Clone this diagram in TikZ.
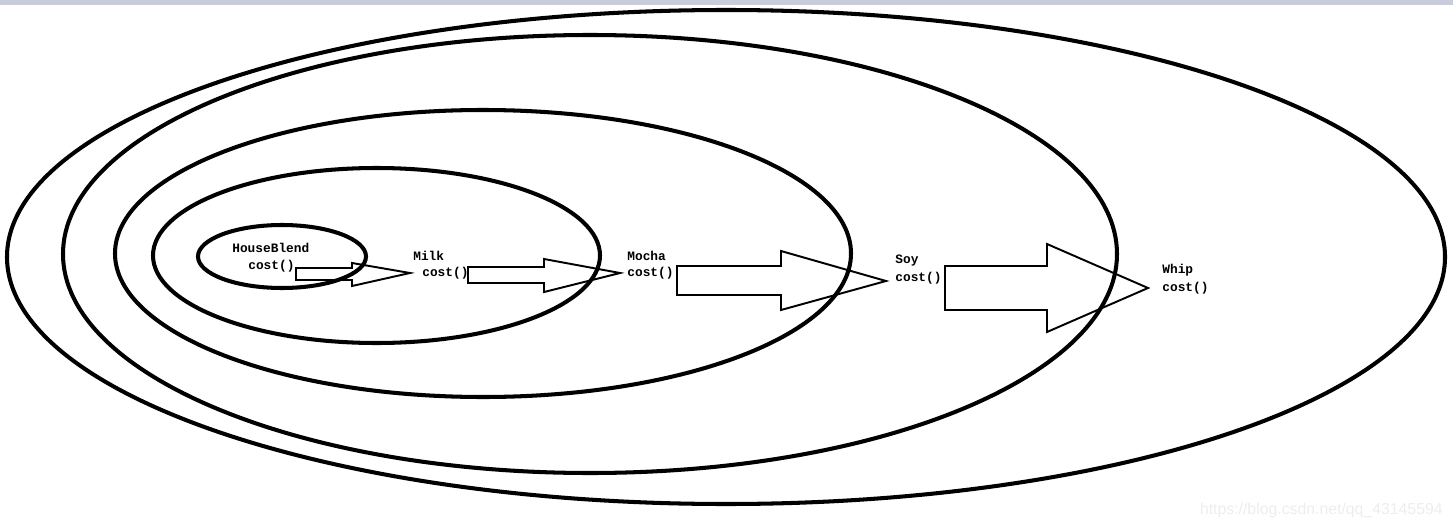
\documentclass[tikz,border=0pt]{standalone}
\usepackage{fontspec}
\newfontfamily\codefont{Liberation Mono}
\newfontfamily\markfont{Liberation Sans}
\usepackage{tikz}
\definecolor{barblue}{RGB}{200,205,222}
\tikzset{
    %Define style for the wrapping rings
    ring/.style={
           draw=black,
           line width=2.3pt},
    %Define style for the block arrows
    blockarrow/.style={
           draw=black,
           line width=1.1pt,
           line join=miter},
    %Define style for labels
    lab/.style={
           font=\codefont\bfseries\fontsize{7.3pt}{8pt}\selectfont,
           anchor=west,
           inner sep=0pt}
}

\begin{document}
\begin{tikzpicture}[x=0.02cm, y=-0.02cm]
 \useasboundingbox (0,0) rectangle (1453,527);
 \fill[barblue] (0,0) rectangle (1453,5);
 %rings
    \draw[ring] (282,256.5) ellipse [x radius=84, y radius=31.5];
    \draw[ring] (376.5,255.5) ellipse [x radius=223.5, y radius=87.5];
    \draw[ring] (483,253.5) ellipse [x radius=368, y radius=143.5];
    \draw[ring] (590,254) ellipse [x radius=527, y radius=219];
    \draw[ring] (726,257) ellipse [x radius=719, y radius=247];
 %nodes
    \node[lab] (hb) at (232,248) {HouseBlend};
    \node[lab] (hbcost) at (248,266) {cost()};
    \node[lab] (milk) at (413,256) {Milk};
    \node[lab] (milkcost) at (422,273) {cost()};
    \node[lab] (mocha) at (627,256) {Mocha};
    \node[lab] (mochacost) at (627,273) {cost()};
    \node[lab] (soy) at (895,261) {Soy};
    \node[lab] (soycost) at (895,278) {cost()};
    \node[lab] (whip) at (1162,270) {Whip};
    \node[lab] (whipcost) at (1162,288) {cost()};
 %arrows
    \draw[blockarrow] (296,268) -- (352,268) -- (352,263) -- (410,273)
        -- (352,286) -- (352,280) -- (296,280) -- cycle;
    \draw[blockarrow] (468,267) -- (544,267) -- (544,259) -- (620,273)
        -- (544,292) -- (544,283) -- (468,283) -- cycle;
    \draw[blockarrow] (677,266) -- (781,266) -- (781,251) -- (886,281)
        -- (781,310) -- (781,295) -- (677,295) -- cycle;
    \draw[blockarrow] (945,266) -- (1047,266) -- (1047,244) -- (1148,288)
        -- (1047,332) -- (1047,310) -- (945,310) -- cycle;
 %watermark
    \node[font=\markfont\fontsize{9pt}{10pt}\selectfont, text=black!7,
        anchor=east, inner sep=0pt] (mark) at (1443,510)
        {https://blog.csdn.net/qq\_43145594};
\end{tikzpicture}
\end{document}
